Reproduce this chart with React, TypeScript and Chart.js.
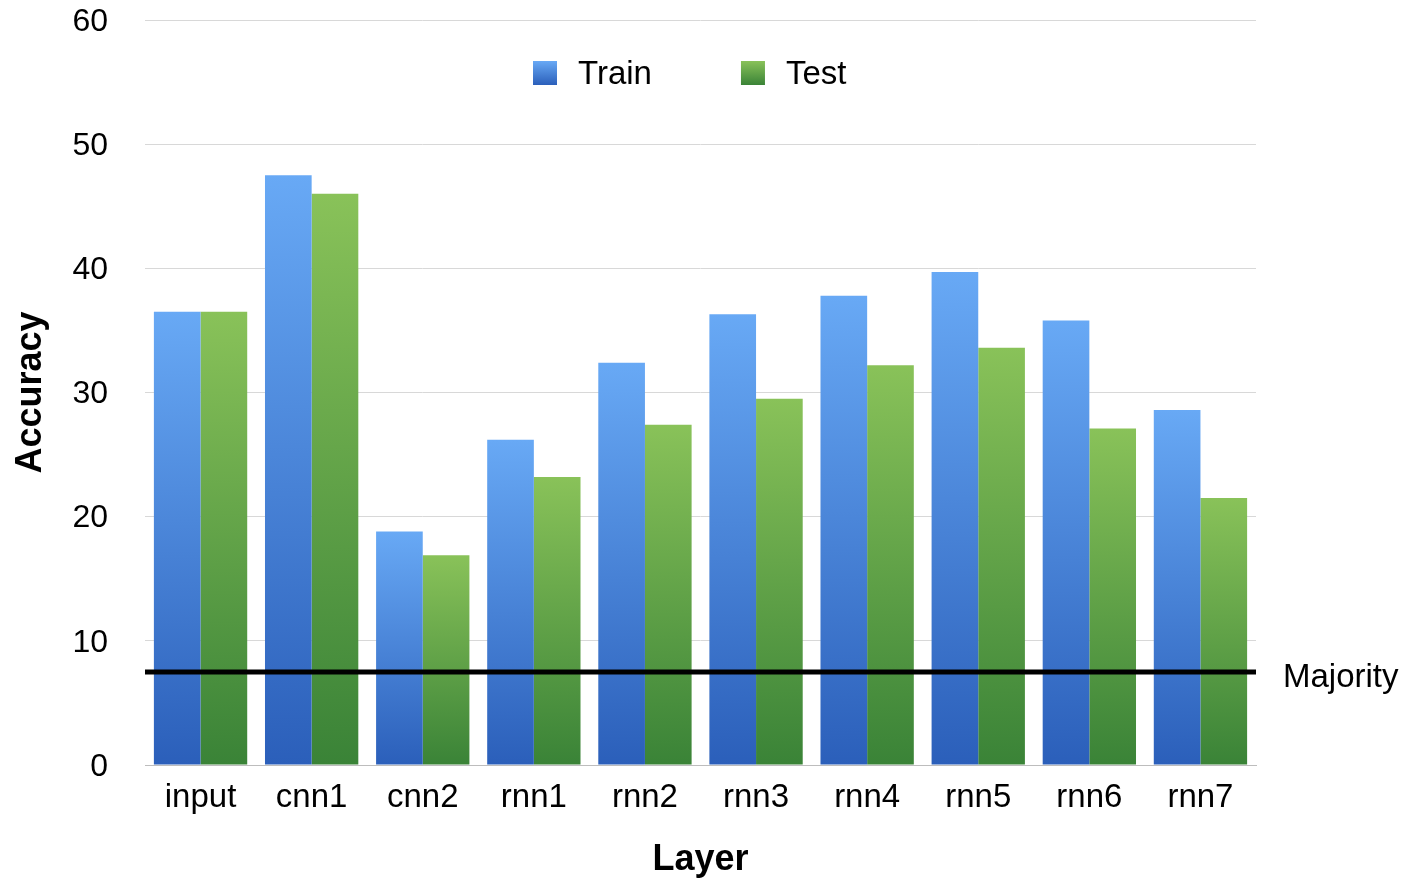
import React, { useEffect, useRef } from "react";
import { Chart, registerables } from "chart.js";

Chart.register(...registerables);

const categories = ["input", "cnn1", "cnn2", "rnn1", "rnn2", "rnn3", "rnn4", "rnn5", "rnn6", "rnn7"];
const trainValues = [36.5, 47.5, 18.8, 26.2, 32.4, 36.3, 37.8, 39.7, 35.8, 28.6];
const testValues = [36.5, 46.0, 16.9, 23.2, 27.4, 29.5, 32.2, 33.6, 27.1, 21.5];
const majorityValue = 7.5;
const yTicks = [0, 10, 20, 30, 40, 50, 60];

const BLUE_TOP = "#68a9f5";
const BLUE_BOTTOM = "#2b5fba";
const GREEN_TOP = "#89c259";
const GREEN_BOTTOM = "#3a8337";
const FONT = "'Liberation Sans', Arial, Helvetica, sans-serif";

function barGradient(top: string, bottom: string) {
  return (ctx: any) => {
    const chart = ctx.chart;
    const area = chart.chartArea;
    const ys = chart.scales && chart.scales.y;
    if (!area || !ys || ctx.raw === undefined) return top;
    const yTop = ys.getPixelForValue(ctx.raw);
    const yBot = ys.getPixelForValue(0);
    if (!isFinite(yTop) || !isFinite(yBot) || yTop === yBot) return top;
    const g = chart.ctx.createLinearGradient(0, yTop, 0, yBot);
    g.addColorStop(0, top);
    g.addColorStop(1, bottom);
    return g;
  };
}

const overlayPlugin = {
  id: "overlay",
  afterDatasetsDraw(chart: any) {
    const { ctx, chartArea, scales } = chart;
    const y = scales.y.getPixelForValue(majorityValue);
    ctx.save();
    ctx.strokeStyle = "#000";
    ctx.lineWidth = 5;
    ctx.beginPath();
    ctx.moveTo(chartArea.left, y);
    ctx.lineTo(chartArea.right, y);
    ctx.stroke();
    ctx.fillStyle = "#000";
    ctx.font = `33px ${FONT}`;
    ctx.textBaseline = "middle";
    ctx.textAlign = "left";
    ctx.fillText("Majority", chartArea.right + 27, y + 6);

    // legend
    const items = [
      { label: "Train", top: BLUE_TOP, bottom: BLUE_BOTTOM },
      { label: "Test", top: GREEN_TOP, bottom: GREEN_BOTTOM },
    ];
    let x = chartArea.left + 388;
    const cy = 73;
    const size = 24;
    items.forEach((it) => {
      const g = ctx.createLinearGradient(0, cy - size / 2, 0, cy + size / 2);
      g.addColorStop(0, it.top);
      g.addColorStop(1, it.bottom);
      ctx.fillStyle = g;
      ctx.fillRect(x, cy - size / 2, size, size);
      x += size + 21;
      ctx.fillStyle = "#000";
      ctx.font = `33px ${FONT}`;
      ctx.fillText(it.label, x, cy + 2);
      x += ctx.measureText(it.label).width + 89;
    });
    ctx.restore();
  },
};

export default function App() {
  const ref = useRef<HTMLCanvasElement | null>(null);
  useEffect(() => {
    document.body.style.margin = "0";
    const canvas = ref.current;
    if (!canvas) return;
    const chart = new Chart(canvas, {
      type: "bar",
      data: {
        labels: categories,
        datasets: [
          {
            label: "Train",
            data: trainValues,
            backgroundColor: barGradient(BLUE_TOP, BLUE_BOTTOM),
            borderWidth: 0,
            barPercentage: 1,
            categoryPercentage: 0.84,
          },
          {
            label: "Test",
            data: testValues,
            backgroundColor: barGradient(GREEN_TOP, GREEN_BOTTOM),
            borderWidth: 0,
            barPercentage: 1,
            categoryPercentage: 0.84,
          },
        ],
      },
      options: {
        responsive: false,
        animation: false,
        layout: { padding: { left: 0, right: 152, top: 20, bottom: 0 } },
        plugins: {
          legend: { display: false },
          tooltip: { enabled: false },
        },
        scales: {
          x: {
            grid: { display: false, drawTicks: false },
            border: { display: true, color: "#bdbdbd", width: 1 },
            ticks: { color: "#000", font: { family: FONT, size: 33 }, padding: 13, maxRotation: 0 },
            title: {
              display: true,
              text: "Layer",
              color: "#000",
              font: { family: FONT, size: 36, weight: "bold" },
              padding: { top: 0, bottom: 8 },
            },
            afterFit: (s: any) => {
              s.height = 125;
              s.paddingLeft = 0;
              s.paddingRight = 0;
            },
          },
          y: {
            min: 0,
            max: 60,
            afterBuildTicks: (s: any) => {
              s.ticks = yTicks.map((v) => ({ value: v }));
            },
            grid: {
              drawTicks: false,
              color: (c: any) => (c.tick && c.tick.value === 0 ? "#bdbdbd" : "#d8d8d8"),
              lineWidth: 1,
            },
            border: { display: false },
            ticks: { color: "#000", font: { family: FONT, size: 32 }, padding: 37, labelOffset: 2 },
            title: {
              display: true,
              text: "Accuracy",
              color: "#000",
              font: { family: FONT, size: 36, weight: "bold" },
              padding: { top: 9, bottom: 0 },
            },
            afterFit: (s: any) => {
              s.width = 145;
              s.paddingTop = 0;
              s.paddingBottom = 0;
            },
          },
        },
      },
      plugins: [overlayPlugin],
    });
    return () => chart.destroy();
  }, []);
  return (
    <div style={{ width: 1408, height: 890, position: "relative" }}>
      <canvas ref={ref} width={1408} height={890} style={{ display: "block" }} />
    </div>
  );
}
